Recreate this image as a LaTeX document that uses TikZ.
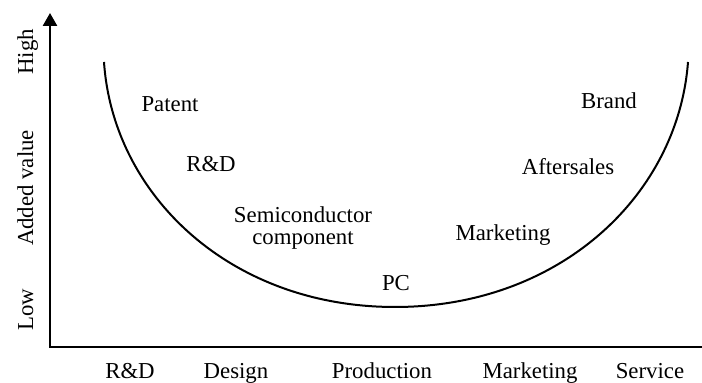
\documentclass[tikz,border=0pt]{standalone}
\usepackage{fontspec}
\setmainfont{Liberation Serif}
\usetikzlibrary{arrows.meta}

\tikzset{
    lbl/.style={font=\fontsize{11.4}{10.8}\selectfont, inner sep=0pt, anchor=base},
    axis/.style={line width=1.3pt, line join=miter},
}

\begin{document}
\begin{tikzpicture}[x=0.5pt, y=-0.5pt, >={Triangle[length=6.5pt,width=7pt]}]
    \useasboundingbox (0,0) rectangle (702,383);

    % axes
    \coordinate (origin) at (50,347);
    \coordinate (ytip) at (50,13);
    \coordinate (xend) at (702,347);
    \draw[axis, <-] (ytip) -- (origin) -- (xend);

    % smile curve
    \draw[line width=1pt] (104,62) .. controls (113,195) and (230,307) .. (395,307)
        .. controls (560,307) and (678,195) .. (688,62);

    % y-axis labels
    \node[lbl, rotate=90] (high) at (33,52) {High};
    \node[lbl, rotate=90] (addval) at (33,188) {Added value};
    \node[lbl, rotate=90] (low) at (33,310) {Low};

    % x-axis labels
    \node[lbl] (xrd) at (130,379) {R\&D};
    \node[lbl] (xdesign) at (236,379) {Design};
    \node[lbl] (xprod) at (382,379) {Production};
    \node[lbl] (xmkt) at (530,379) {Marketing};
    \node[lbl] (xservice) at (650,379) {Service};

    % points along the curve
    \node[lbl] (patent) at (170,112) {Patent};
    \node[lbl] (rd) at (211,172) {R\&D};
    \node[lbl, anchor=center, align=center] (semi) at (303,228) {Semiconductor\\component};
    \node[lbl] (pc) at (396,291) {PC};
    \node[lbl] (mkt) at (503,241) {Marketing};
    \node[lbl] (after) at (568,175) {Aftersales};
    \node[lbl] (brand) at (609,109) {Brand};
\end{tikzpicture}
\end{document}
